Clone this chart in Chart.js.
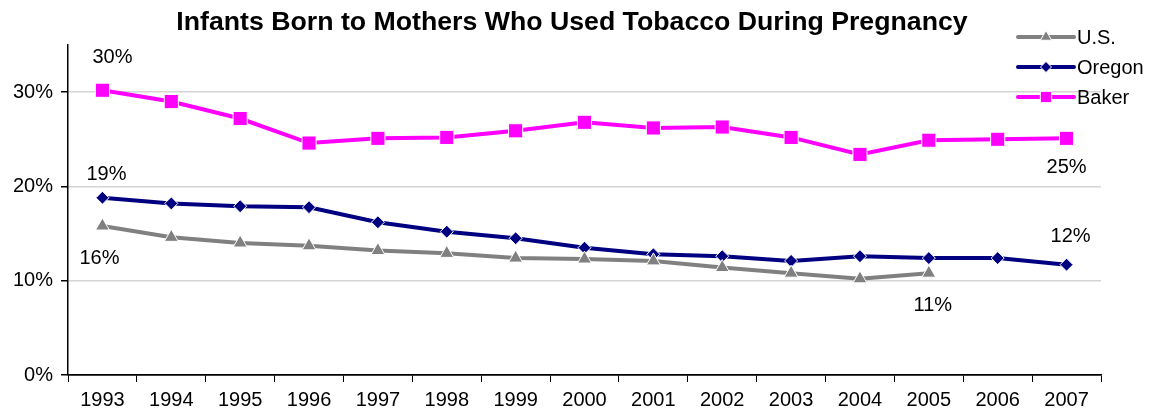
<!DOCTYPE html>
<html>
<head>
<meta charset="utf-8">
<script src="https://cdn.jsdelivr.net/npm/chart.js@4"></script>
<style>
  html, body { margin: 0; padding: 0; background: #fff; }
  #wrap { width: 1154px; height: 413px; }
</style>
</head>
<body>
<div id="wrap"><canvas id="c"></canvas></div>
<script>
// data
const years = ['1993','1994','1995','1996','1997','1998','1999','2000','2001','2002','2003','2004','2005','2006','2007'];
const usVals =     [15.8, 14.6, 14.0, 13.7, 13.2, 12.9, 12.4, 12.3, 12.1, 11.4, 10.8, 10.2, 10.8, null, null];
const oregonVals = [18.8, 18.2, 17.9, 17.8, 16.2, 15.2, 14.5, 13.5, 12.8, 12.6, 12.1, 12.6, 12.4, 12.4, 11.7];
const bakerVals =  [30.2, 29.0, 27.2, 24.6, 25.1, 25.2, 25.9, 26.8, 26.2, 26.3, 25.2, 23.4, 24.9, 25.0, 25.1];

// value labels: dataset index, point index, text, placement
const pointLabels = [
  { ds: 2, i: 0,  text: '30%', dx: 10, dy: -33 },
  { ds: 2, i: 14, text: '25%', dx: 0,  dy: 29 },
  { ds: 1, i: 0,  text: '19%', dx: 4,  dy: -23 },
  { ds: 1, i: 14, text: '12%', dx: 4,  dy: -28 },
  { ds: 0, i: 0,  text: '16%', dx: -3, dy: 32 },
  { ds: 0, i: 12, text: '11%', dx: 4,  dy: 32 },
];

const FONT = '"Liberation Sans", Arial, sans-serif';

const overlay = {
  id: 'overlay',
  afterDatasetsDraw(chart) {
    const ctx = chart.ctx;
    ctx.save();
    // title
    ctx.fillStyle = '#000';
    ctx.font = 'bold 26.7px ' + FONT;
    ctx.textAlign = 'center';
    ctx.textBaseline = 'middle';
    ctx.fillText('Infants Born to Mothers Who Used Tobacco During Pregnancy', 572, 23);

    // value labels
    ctx.font = '20px ' + FONT;
    pointLabels.forEach(l => {
      const el = chart.getDatasetMeta(l.ds).data[l.i];
      ctx.fillText(l.text, el.x + l.dx, el.y + l.dy);
    });

    // legend
    const rows = [
      { ds: 0, y: 37, r: 6.5 },
      { ds: 1, y: 67, r: 5.5 },
      { ds: 2, y: 97, r: 8 },
    ];
    rows.forEach(r => {
      const d = chart.data.datasets[r.ds];
      ctx.strokeStyle = d.borderColor;
      ctx.lineWidth = 4;
      ctx.lineCap = 'round';
      ctx.beginPath();
      ctx.moveTo(1018, r.y);
      ctx.lineTo(1074, r.y);
      ctx.stroke();
      ctx.lineCap = 'butt';
      ctx.lineWidth = 1;
      ctx.fillStyle = d.borderColor;
      ctx.strokeStyle = '#fff';
      Chart.helpers.drawPoint(ctx, { pointStyle: d.pointStyle, radius: r.r, borderWidth: 1, rotation: 0 }, 1046, r.y);
      ctx.fillStyle = '#000';
      ctx.font = '20px ' + FONT;
      ctx.textAlign = 'left';
      ctx.textBaseline = 'middle';
      ctx.fillText(d.label, 1077, r.y + 1);
    });
    ctx.restore();
  }
};

function series(label, data, color, style, radius) {
  return {
    label: label,
    data: data,
    borderColor: color,
    backgroundColor: color,
    borderWidth: 4,
    pointStyle: style,
    pointRadius: radius,
    pointBackgroundColor: color,
    pointBorderColor: '#fff',
    pointBorderWidth: 1,
    tension: 0,
    spanGaps: false,
  };
}

new Chart(document.getElementById('c'), {
  type: 'line',
  data: {
    labels: years,
    datasets: [
      series('U.S.', usVals, '#808080', 'triangle', 8),
      series('Oregon', oregonVals, '#000080', 'rectRot', 6.5),
      series('Baker', bakerVals, '#ff00ff', 'rect', 10),
    ],
  },
  options: {
    responsive: true,
    maintainAspectRatio: false,
    animation: false,
    devicePixelRatio: 1,
    layout: { padding: { top: 45, right: 53, left: 0, bottom: 0 } },
    plugins: {
      legend: { display: false },
      title: { display: false },
      tooltip: { enabled: false },
    },
    scales: {
      x: {
        offset: true,
        afterFit: (axis) => { axis.height = 38; },
        grid: { offset: true, drawOnChartArea: false, drawTicks: true, tickLength: 7, color: '#000' },
        border: { color: '#000', width: 1.5 },
        ticks: { color: '#000', font: { family: FONT, size: 20 }, padding: 6, maxRotation: 0, autoSkip: false },
      },
      y: {
        min: 0,
        max: 35,
        afterFit: (axis) => { axis.width = 68; },
        afterBuildTicks: (axis) => { axis.ticks = axis.ticks.filter(t => t.value % 10 === 0); },
        grid: {
          color: (c) => c.tick && c.tick.value === 0 ? '#000' : '#d4d4d4',
          lineWidth: 1.5,
          tickColor: '#000',
          tickLength: 7,
        },
        border: { color: '#000', width: 1.5 },
        ticks: {
          stepSize: 10,
          color: '#000',
          padding: 8,
          font: { family: FONT, size: 20 },
          callback: (v) => v + '%',
        },
      },
    },
  },
  plugins: [overlay],
});
</script>
</body>
</html>
